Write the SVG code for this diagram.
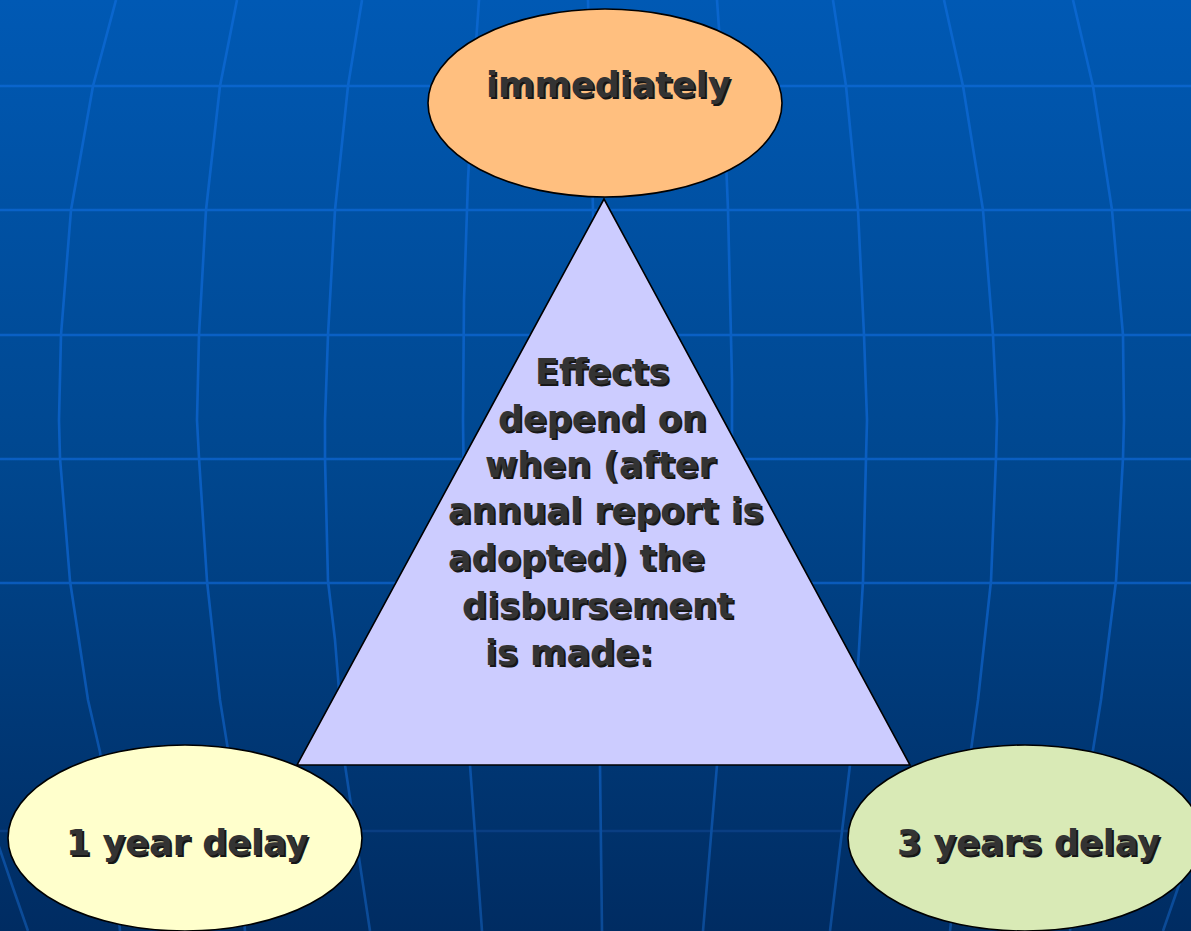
<svg xmlns="http://www.w3.org/2000/svg" width="1191" height="931" viewBox="0 0 1191 931">
  <defs>
    <linearGradient id="bg" x1="0" y1="0" x2="0" y2="1">
      <stop offset="0" stop-color="#0059B4"/>
      <stop offset="0.5" stop-color="#00478F"/>
      <stop offset="1" stop-color="#002C62"/>
    </linearGradient>
    <linearGradient id="gridg" gradientUnits="userSpaceOnUse" x1="0" y1="0" x2="0" y2="931">
      <stop offset="0" stop-color="#0A66CE"/>
      <stop offset="0.6" stop-color="#0A5CBE"/>
      <stop offset="1" stop-color="#0B4A96"/>
    </linearGradient>
  </defs>
  <style>
    .grid { fill: none; stroke: url(#gridg); stroke-width: 2.6; stroke-linejoin: round; }
    .node { stroke: #000; stroke-width: 1.6; }
    .lbl { font-family: "DejaVu Sans", Verdana, sans-serif; font-weight: bold; font-size: 35px; fill: #333333; }
    .sh { font-family: "DejaVu Sans", Verdana, sans-serif; font-weight: bold; font-size: 35px; fill: #161616; }
  </style>

  <rect x="0" y="0" width="1191" height="931" fill="url(#bg)"/>

  <g id="background-grid">
    <line class="grid" x1="0" y1="86" x2="1191" y2="86"/>
    <line class="grid" x1="0" y1="210" x2="1191" y2="210"/>
    <line class="grid" x1="0" y1="335" x2="1191" y2="335"/>
    <line class="grid" x1="0" y1="459" x2="1191" y2="459"/>
    <line class="grid" x1="0" y1="583" x2="1191" y2="583"/>
    <line class="grid" x1="0" y1="831" x2="1191" y2="831" style="stroke:#0A3E82"/>
    <polyline class="grid" points="-4,838 12,885 28,931"/>
    <polyline class="grid" points="116,0 93,86 71,210 61,335 59,420 60,458 70,581 88,700 100,752 112,840 120,931"/>
    <polyline class="grid" points="237,0 220,86 206,210 199,335 197,420 199,458 207,581 220,700 228,750 245,931"/>
    <polyline class="grid" points="362,0 348,86 335,210 328,335 325,420 325,458 328,581 335,640 345,765 370,931"/>
    <polyline class="grid" points="479,0 473,86 468,180 464,300 463,420 464,500 467,640 470,765 482,931"/>
    <polyline class="grid" points="588,0 593,210 596,420 598,600 600,765 602,931"/>
    <polyline class="grid" points="717,0 723,86 728,210 732,380 732,450 729,600 717,765 703,931"/>
    <polyline class="grid" points="833,0 846,86 858,210 864,335 867,420 866,458 863,581 856,700 850,765 830,931"/>
    <polyline class="grid" points="944,0 963,86 983,210 993,335 997,420 996,458 991,581 978,700 971,750 950,931"/>
    <polyline class="grid" points="1073,0 1093,86 1112,210 1123,335 1124,420 1123,458 1116,581 1101,700 1093,750 1080,840 1070,931"/>
    <polyline class="grid" points="1195,838 1179,885 1163,931"/>
  </g>

  <g id="connectors"></g>

  <g id="node-immediately">
    <ellipse class="node" cx="605" cy="103" rx="177" ry="94" fill="#FFBF7F"/>
    <text class="sh" x="488" y="99">immediately</text>
    <text class="lbl" x="486" y="97">immediately</text>
  </g>

  <g id="node-effects">
    <polygon class="node" points="604,199 297,765 910,765" fill="#CCCCFF"/>
    <g>
      <text class="sh" x="537" y="386">Effects</text>
      <text class="sh" x="500" y="433">depend on</text>
      <text class="sh" x="487" y="479">when (after</text>
      <text class="sh" x="450" y="525">annual report is</text>
      <text class="sh" x="450" y="572">adopted) the</text>
      <text class="sh" x="464" y="620">disbursement</text>
      <text class="sh" x="487" y="667">is made:</text>
    </g>
    <g>
      <text class="lbl" x="535" y="384">Effects</text>
      <text class="lbl" x="498" y="431">depend on</text>
      <text class="lbl" x="485" y="477">when (after</text>
      <text class="lbl" x="448" y="523">annual report is</text>
      <text class="lbl" x="448" y="570">adopted) the</text>
      <text class="lbl" x="462" y="618">disbursement</text>
      <text class="lbl" x="485" y="665">is made:</text>
    </g>
  </g>

  <g id="node-1-year">
    <ellipse class="node" cx="185" cy="838" rx="177" ry="93" fill="#FFFFCC"/>
    <text class="sh" x="68" y="857">1 year delay</text>
    <text class="lbl" x="66" y="855">1 year delay</text>
  </g>

  <g id="node-3-years">
    <ellipse class="node" cx="1025" cy="838" rx="177" ry="93" fill="#D9EAB6"/>
    <text class="sh" x="899" y="857">3 years delay</text>
    <text class="lbl" x="897" y="855">3 years delay</text>
  </g>
</svg>
